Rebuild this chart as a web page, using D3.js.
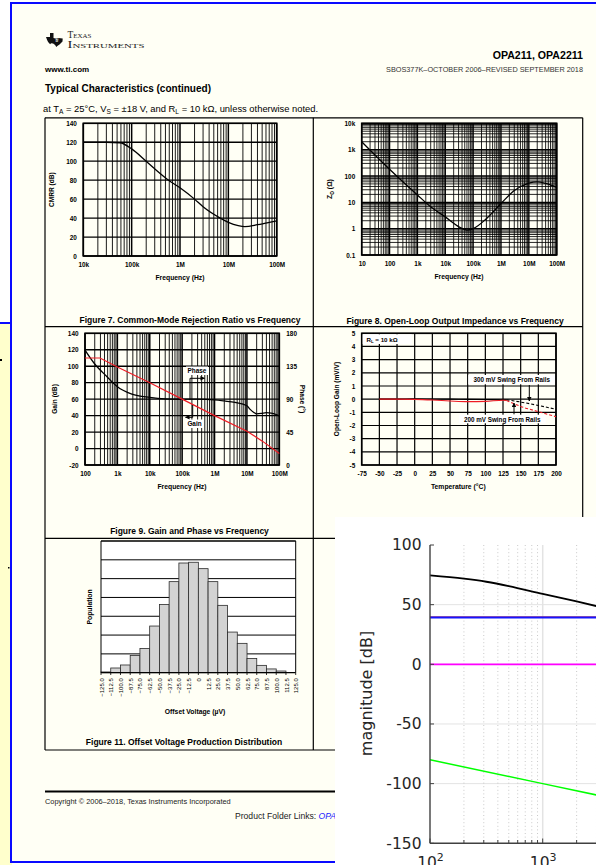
<!DOCTYPE html>
<html><head><meta charset="utf-8">
<script src="https://cdn.jsdelivr.net/npm/d3@7"></script>
<style>body{margin:0;background:#fff}svg{display:block}</style>
</head><body><svg id="c" width="596" height="865"></svg>
<script>
// ================= DATA =================
// Figure 7: CMRR vs frequency
const cmrrFreq = [1e4, 3e4, 5.7e4, 1e5, 2e5, 3e5, 5.8e5, 1e6, 2e6, 3e6, 6.8e6, 1e7, 1.6e7, 2.2e7, 4e7, 6.3e7, 1e8];
const cmrrDb   = [120, 120, 119.5, 113, 100, 92, 80, 72, 60, 52, 40, 35.5, 32, 31, 33, 35, 37];
const cmrrTicks = [0, 20, 40, 60, 80, 100, 120, 140];
const freqTicks7 = [1e4, 1e5, 1e6, 1e7, 1e8];
const freqLabels7 = ['10k', '100k', '1M', '10M', '100M'];

// Figure 8: open-loop output impedance
const zoFreq = [10, 100, 1e3, 3e3, 1e4, 3e4, 6e4, 1e5, 3e5, 1e6, 3e6, 1e7, 2e7, 4e7, 1e8];
const zoOhm  = [2000, 180, 19, 6.8, 2.8, 1.2, 0.88, 1.0, 2.4, 9, 28, 54, 60, 52, 37];
const freqTicks8 = [10, 100, 1e3, 1e4, 1e5, 1e6, 1e7, 1e8];
const freqLabels8 = ['10', '100', '1k', '10k', '100k', '1M', '10M', '100M'];
const zoTicks = [0.1, 1, 10, 100, 1e3, 1e4];
const zoLabels = ['0.1', '1', '10', '100', '1k', '10k'];

// Figure 9: gain and phase
const gainFreq = [100, 290, 1e3, 1e4, 1e5, 1e6, 1e7, 3e7, 1e8];
const gainDb   = [110, 110, 99, 80, 60, 40, 21, 9, -6];
const phaseFreq = [100, 200, 470, 1e3, 2.8e3, 1e4, 3e4, 1e5, 3e5, 1e6, 2e6, 4.3e6, 1e7, 1.26e7, 1.6e7, 2e7, 2.8e7, 4e7, 5.6e7, 8e7, 1e8];
const phaseDeg  = [157, 138, 121, 107, 97, 92.5, 90.5, 90, 90, 89, 87.5, 85.5, 81, 76, 72, 70, 70.5, 71.5, 71, 69, 67];
const gainTicks = [-20, 0, 20, 40, 60, 80, 100, 120, 140];
const phaseTicks = [0, 45, 90, 135, 180];
const freqTicks9 = [100, 1e3, 1e4, 1e5, 1e6, 1e7, 1e8];
const freqLabels9 = ['100', '1k', '10k', '100k', '1M', '10M', '100M'];

// Figure 10: open-loop gain vs temperature
const tempSolid = [-50, -25, 0, 25, 50, 75, 100, 125, 130];
const swing300Solid = [0, 0, 0.02, 0.01, 0, -0.02, -0.03, -0.04, -0.05];
const swing200Solid = [0, 0, -0.02, -0.07, -0.14, -0.19, -0.17, -0.08, -0.1];
const tempDashed = [130, 150, 175, 200];
const swing300Dashed = [-0.05, -0.22, -0.48, -0.77];
const swing200Dashed = [-0.1, -0.55, -0.95, -1.33];
const tempTicks = [-75, -50, -25, 0, 25, 50, 75, 100, 125, 150, 175, 200];
const olgTicks = [-5, -4, -3, -2, -1, 0, 1, 2, 3, 4, 5];

// Figure 11: offset voltage histogram
const offsetEdges = [-125, -112.5, -100, -87.5, -75, -62.5, -50, -37.5, -25, -12.5, 0, 12.5, 25, 37.5, 50, 62.5, 75, 87.5, 100, 112.5, 125];
const offsetLabels = ['\u2212125.0', '\u2212112.5', '\u2212100.0', '\u221287.5', '\u221275.0', '\u221262.5', '\u221250.0', '\u221237.5', '\u221225.0', '\u221212.5', '0', '12.5', '25.0', '37.5', '50.0', '62.5', '75.0', '87.5', '100.0', '112.5', '125.0'];
const offsetCounts = [4, 25, 41, 92, 129, 248, 363, 484, 583, 587, 553, 484, 358, 216, 156, 76, 39, 20, 9, 0];
const popGrid = [100, 200, 300, 400, 500, 600, 700];

// Overlay: magnitude plot
const magFreq = [100, 200, 316, 500, 1000, 2000, 3000];
const magBlack = [74.5, 71.8, 69.2, 65.6, 59, 52.7, 48.8];
const flatFreq = [100, 3000];
const magPurple = [39.6, 39.6];
const magBlue = [39.1, 39.1];
const magMagenta = [0, 0];
const greenFreq = [100, 1000, 3000];
const magGreen = [-80, -100, -109.5];
const magYTicks = [-150, -100, -50, 0, 50, 100];
const magXTicks = [100, 1000];
const magXLabels = [['10', '2'], ['10', '3']];

// ================= DRAWING =================
const W = 596, H = 865;
const SANS = '"Liberation Sans", Arial, Helvetica, sans-serif';
const DJ = '"DejaVu Sans", sans-serif';
const svg = d3.select('#c');

function logGrid(lo, hi) {
  const major = [], minor = [];
  for (let e = lo; e <= hi; e++) {
    major.push(Math.pow(10, e));
    if (e < hi) for (let m = 2; m < 10; m++) minor.push(m * Math.pow(10, e));
  }
  return {major, minor};
}
function vlines(g, vals, x, y0, y1, w, color, dash) {
  g.append('g').selectAll('line').data(vals).join('line')
    .attr('x1', d => x(d)).attr('x2', d => x(d)).attr('y1', y0).attr('y2', y1)
    .attr('stroke', color || '#000').attr('stroke-width', w).attr('stroke-dasharray', dash || null);
}
function hlines(g, vals, y, x0, x1, w, color, dash) {
  g.append('g').selectAll('line').data(vals).join('line')
    .attr('y1', d => y(d)).attr('y2', d => y(d)).attr('x1', x0).attr('x2', x1)
    .attr('stroke', color || '#000').attr('stroke-width', w).attr('stroke-dasharray', dash || null);
}
function styleAx(a, size, weight, family) {
  a.select('.domain').remove();
  a.selectAll('.tick line').remove();
  a.attr('font-family', family || SANS).attr('font-size', size).attr('font-weight', weight || 'bold');
  a.selectAll('text').attr('fill', '#000');
  return a;
}
function axLeft(g, scale, vals, fmt, xp, pad, size) {
  return styleAx(g.append('g').attr('transform', `translate(${xp},0)`)
    .call(d3.axisLeft(scale).tickValues(vals).tickFormat(fmt).tickSize(0).tickPadding(pad)), size);
}
function axRight(g, scale, vals, fmt, xp, pad, size) {
  return styleAx(g.append('g').attr('transform', `translate(${xp},0)`)
    .call(d3.axisRight(scale).tickValues(vals).tickFormat(fmt).tickSize(0).tickPadding(pad)), size);
}
function axBottom(g, scale, vals, fmt, yp, pad, size) {
  return styleAx(g.append('g').attr('transform', `translate(0,${yp})`)
    .call(d3.axisBottom(scale).tickValues(vals).tickFormat(fmt).tickSize(0).tickPadding(pad)), size);
}
function txt(g, x, y, s, size, opts) {
  opts = opts || {};
  const t = g.append('text').attr('x', x).attr('y', y).text(s)
    .attr('font-family', opts.family || SANS).attr('font-size', size)
    .attr('font-weight', opts.weight || 'normal').attr('fill', opts.fill || '#000')
    .attr('text-anchor', opts.anchor || 'start');
  if (opts.rotate != null) t.attr('transform', `rotate(${opts.rotate},${x},${y})`);
  if (opts.style) t.attr('font-style', opts.style);
  if (opts.len) t.attr('textLength', opts.len).attr('lengthAdjust', 'spacingAndGlyphs');
  return t;
}
function rich(g, x, y, parts, size, opts) {
  opts = opts || {};
  const t = g.append('text').attr('x', x).attr('y', y)
    .attr('font-family', SANS).attr('font-size', size).attr('font-weight', opts.weight || 'normal')
    .attr('text-anchor', opts.anchor || 'start').attr('fill', '#000');
  if (opts.rotate != null) t.attr('transform', `rotate(${opts.rotate},${x},${y})`);
  let shift = 0;
  parts.forEach(p => {
    const s = t.append('tspan').text(p[0]);
    const want = p[1] === 'sub' ? size * 0.3 : 0;
    if (want !== shift) { s.attr('dy', want - shift); shift = want; }
    if (p[1] === 'sub') s.attr('font-size', size * 0.7);
  });
  return t;
}

// --- backgrounds and window frames ---
svg.append('rect').attr('width', W).attr('height', H).attr('fill', '#ffffff');
svg.append('rect').attr('x', 0).attr('y', 323).attr('width', 12).attr('height', H - 323).attr('fill', '#ffffcc');
svg.append('rect').attr('x', 11).attr('y', 3).attr('width', W - 11).attr('height', 859).attr('fill', '#fffff5');
const BLUE = '#0a0aff';
svg.append('line').attr('x1', 10).attr('x2', W).attr('y1', 3).attr('y2', 3).attr('stroke', BLUE).attr('stroke-width', 2);
svg.append('line').attr('x1', 11).attr('x2', 11).attr('y1', 2).attr('y2', 863).attr('stroke', BLUE).attr('stroke-width', 2);
svg.append('line').attr('x1', 0).attr('x2', 11).attr('y1', 323).attr('y2', 323).attr('stroke', BLUE).attr('stroke-width', 2);
svg.append('line').attr('x1', 10).attr('x2', W).attr('y1', 862).attr('y2', 862).attr('stroke', BLUE).attr('stroke-width', 2);
svg.append('rect').attr('x', 0).attr('y', 359).attr('width', 2).attr('height', 2).attr('fill', '#000');
svg.append('rect').attr('x', 8).attr('y', 567).attr('width', 1.5).attr('height', 1.5).attr('fill', '#000');

// --- page header ---
const page = svg.append('g');
page.append('path').attr('d', 'M46,37 h4 v-4 h3.5 v5 l2,0.6 l3,-0.6 l4.2,0.4 l-0.2,3 l-3,3 l-2.2,1.5 l-1,1.2 l-1.2,-2 l-2,-1.5 l-2,-0.3 l-1,1 l-2,-2.2 l-1,-2 Z').attr('fill', '#111');
txt(page, 55.5, 41.5, 'ti', 4.5, {weight: 'bold', fill: '#fff', style: 'italic'});
txt(page, 67.5, 38, 'Texas', 9.5, {family: '"Liberation Serif", serif', fill: '#222', len: 24}).attr('font-variant', 'small-caps');
txt(page, 67.5, 48, 'Instruments', 9.5, {family: '"Liberation Serif", serif', fill: '#222', len: 77}).attr('font-variant', 'small-caps');
txt(page, 583, 59, 'OPA211, OPA2211', 10.6, {weight: 'bold', anchor: 'end'});
txt(page, 45, 72, 'www.ti.com', 8, {weight: 'bold'});
txt(page, 583, 72, 'SBOS377K\u2013OCTOBER 2006\u2013REVISED SEPTEMBER 2018', 7.3, {anchor: 'end', fill: '#333'});
txt(page, 45, 92, 'Typical Characteristics (continued)', 10, {weight: 'bold'});
rich(page, 43, 111.5, [['at T'], ['A', 'sub'], [' = 25\u00b0C, V'], ['S', 'sub'], [' = \u00b118 V, and R'], ['L', 'sub'], [' = 10 k\u03a9, unless otherwise noted.']], 9.4);

// table frame
const TB = {l: 45, m: 313.3, r: 582.7, rows: [117.8, 326.7, 538.3, 750]};
TB.rows.forEach(yv => page.append('line').attr('x1', TB.l).attr('x2', TB.r).attr('y1', yv).attr('y2', yv).attr('stroke', '#000').attr('stroke-width', 1.2));
[TB.l, TB.m, TB.r].forEach(xv => page.append('line').attr('x1', xv).attr('x2', xv).attr('y1', TB.rows[0]).attr('y2', TB.rows[3]).attr('stroke', '#000').attr('stroke-width', 1.2));

// ---------- Figure 7 ----------
{
  const g = svg.append('g');
  const x = d3.scaleLog().domain([1e4, 1e8]).range([83.3, 276.7]);
  const y = d3.scaleLinear().domain([0, 140]).range([256, 123.3]);
  const lg = logGrid(4, 8);
  vlines(g, lg.minor, x, 123.3, 256, 0.9);
  vlines(g, lg.major, x, 123.3, 256, 1.5);
  hlines(g, cmrrTicks, y, 83.3, 276.7, 1.3);
  g.append('rect').attr('x', 83.3).attr('y', 123.3).attr('width', 193.4).attr('height', 132.7).attr('fill', 'none').attr('stroke', '#000').attr('stroke-width', 1.6);
  g.append('path').datum(cmrrFreq.map((f, i) => [f, cmrrDb[i]]))
    .attr('d', d3.line().x(d => x(d[0])).y(d => y(d[1])).curve(d3.curveMonotoneX))
    .attr('fill', 'none').attr('stroke', '#000').attr('stroke-width', 1.3);
  axLeft(g, y, cmrrTicks, d => d, 83.3, 6.5, 6.4);
  axBottom(g, x, freqTicks7, (d, i) => freqLabels7[i], 256, 6.5, 6.4);
  txt(g, 54.5, 189.7, 'CMRR (dB)', 6.6, {weight: 'bold', anchor: 'middle', rotate: -90});
  txt(g, 180, 279.5, 'Frequency (Hz)', 6.8, {weight: 'bold', anchor: 'middle'});
  txt(g, 190, 323, 'Figure 7. Common-Mode Rejection Ratio vs Frequency', 8.5, {weight: 'bold', anchor: 'middle'});
}

// ---------- Figure 8 ----------
{
  const g = svg.append('g');
  const x = d3.scaleLog().domain([10, 1e8]).range([361.7, 556.7]);
  const y = d3.scaleLog().domain([0.1, 1e4]).range([255, 123.3]);
  const lx = logGrid(1, 8), ly = logGrid(-1, 4);
  vlines(g, lx.minor, x, 123.3, 255, 0.85);
  vlines(g, lx.major, x, 123.3, 255, 1.4);
  hlines(g, ly.minor, y, 361.7, 556.7, 0.85);
  hlines(g, ly.major, y, 361.7, 556.7, 1.3);
  g.append('rect').attr('x', 361.7).attr('y', 123.3).attr('width', 195).attr('height', 131.7).attr('fill', 'none').attr('stroke', '#000').attr('stroke-width', 1.6);
  g.append('path').datum(zoFreq.map((f, i) => [f, zoOhm[i]]))
    .attr('d', d3.line().x(d => x(d[0])).y(d => y(d[1])).curve(d3.curveMonotoneX))
    .attr('fill', 'none').attr('stroke', '#000').attr('stroke-width', 1.3);
  axLeft(g, y, zoTicks, (d, i) => zoLabels[i], 361.7, 6.5, 6.4);
  axBottom(g, x, freqTicks8, (d, i) => freqLabels8[i], 255, 6.5, 6.4);
  rich(g, 332, 189, [['Z'], ['O', 'sub'], [' (\u03a9)']], 6.8, {weight: 'bold', anchor: 'middle', rotate: -90});
  txt(g, 459, 278.5, 'Frequency (Hz)', 6.8, {weight: 'bold', anchor: 'middle'});
  txt(g, 455, 323.5, 'Figure 8. Open-Loop Output Impedance vs Frequency', 8.5, {weight: 'bold', anchor: 'middle'});
}

// arrow markers
const defs = svg.append('defs');
defs.append('marker').attr('id', 'arr').attr('viewBox', '0 0 10 10').attr('refX', 9).attr('refY', 5)
  .attr('markerWidth', 4.5).attr('markerHeight', 4.5).attr('orient', 'auto-start-reverse').attr('markerUnits', 'userSpaceOnUse')
  .append('path').attr('d', 'M0,0 L10,5 L0,10 Z').attr('fill', '#000');

// ---------- Figure 9 ----------
{
  const g = svg.append('g');
  const x = d3.scaleLog().domain([100, 1e8]).range([85, 279.3]);
  const y = d3.scaleLinear().domain([-20, 140]).range([465, 333.3]);
  const yr = d3.scaleLinear().domain([0, 180]).range([465, 333.3]);
  const lg = logGrid(2, 8);
  vlines(g, lg.minor, x, 333.3, 465, 0.9);
  vlines(g, lg.major, x, 333.3, 465, 1.5);
  hlines(g, gainTicks, y, 85, 279.3, 1.3);
  g.append('rect').attr('x', 85).attr('y', 333.3).attr('width', 194.3).attr('height', 131.7).attr('fill', 'none').attr('stroke', '#000').attr('stroke-width', 1.6);
  g.append('path').datum(phaseFreq.map((f, i) => [f, phaseDeg[i]]))
    .attr('d', d3.line().x(d => x(d[0])).y(d => yr(d[1])).curve(d3.curveMonotoneX))
    .attr('fill', 'none').attr('stroke', '#000').attr('stroke-width', 1.3);
  g.append('path').datum(gainFreq.map((f, i) => [f, gainDb[i]]))
    .attr('d', d3.line().x(d => x(d[0])).y(d => y(d[1])))
    .attr('fill', 'none').attr('stroke', '#ee1c25').attr('stroke-width', 1.2);
  // annotations
  g.append('rect').attr('x', 186).attr('y', 366.5).attr('width', 22).attr('height', 8.5).attr('fill', '#fff');
  txt(g, 197, 373, 'Phase', 6.4, {weight: 'bold', anchor: 'middle'});
  g.append('path').attr('d', 'M190,400 V378.3 H204.5').attr('fill', 'none').attr('stroke', '#000').attr('stroke-width', 1).attr('marker-end', 'url(#arr)');
  g.append('rect').attr('x', 186).attr('y', 419.5).attr('width', 17).attr('height', 8.5).attr('fill', '#fff');
  txt(g, 194.5, 426, 'Gain', 6.4, {weight: 'bold', anchor: 'middle'});
  g.append('path').attr('d', 'M192.7,405 V417.3 H185.5').attr('fill', 'none').attr('stroke', '#000').attr('stroke-width', 1).attr('marker-end', 'url(#arr)');
  axLeft(g, y, gainTicks, d => d, 85, 6.5, 6.4);
  axRight(g, yr, phaseTicks, d => d, 279.3, 7, 6.4);
  axBottom(g, x, freqTicks9, (d, i) => freqLabels9[i], 465, 6.5, 6.4);
  txt(g, 57, 399, 'Gain (dB)', 6.6, {weight: 'bold', anchor: 'middle', rotate: -90});
  txt(g, 299.5, 399, 'Phase (\u00b0)', 6.6, {weight: 'bold', anchor: 'middle', rotate: 90});
  txt(g, 182, 489, 'Frequency (Hz)', 6.8, {weight: 'bold', anchor: 'middle'});
  txt(g, 189.5, 534, 'Figure 9. Gain and Phase vs Frequency', 8.5, {weight: 'bold', anchor: 'middle'});
}

// ---------- Figure 10 ----------
{
  const g = svg.append('g');
  const x = d3.scaleLinear().domain([-75, 200]).range([361.7, 556]);
  const y = d3.scaleLinear().domain([-5, 5]).range([465, 333.3]);
  vlines(g, tempTicks, x, 333.3, 465, 1.2);
  hlines(g, olgTicks, y, 361.7, 556, 1.2);
  g.append('rect').attr('x', 361.7).attr('y', 333.3).attr('width', 194.3).attr('height', 131.7).attr('fill', 'none').attr('stroke', '#000').attr('stroke-width', 1.6);
  const ln = d3.line().x(d => x(d[0])).y(d => y(d[1])).curve(d3.curveMonotoneX);
  g.append('path').datum(tempSolid.map((t, i) => [t, swing300Solid[i]])).attr('d', ln).attr('fill', 'none').attr('stroke', '#000').attr('stroke-width', 1.1);
  g.append('path').datum(tempSolid.map((t, i) => [t, swing200Solid[i]])).attr('d', ln).attr('fill', 'none').attr('stroke', '#ee1c25').attr('stroke-width', 1.1);
  g.append('path').datum(tempDashed.map((t, i) => [t, swing300Dashed[i]])).attr('d', ln).attr('fill', 'none').attr('stroke', '#000').attr('stroke-width', 1.1).attr('stroke-dasharray', '3,2');
  g.append('path').datum(tempDashed.map((t, i) => [t, swing200Dashed[i]])).attr('d', ln).attr('fill', 'none').attr('stroke', '#ee1c25').attr('stroke-width', 1.1).attr('stroke-dasharray', '3,2');
  g.append('rect').attr('x', 362.7).attr('y', 334.3).attr('width', 49).attr('height', 9.7).attr('fill', '#fff');
  rich(g, 366.5, 341.5, [['R'], ['L', 'sub'], [' = 10 k\u03a9']], 6.2, {weight: 'bold'});
  g.append('rect').attr('x', 468.3).attr('y', 375).attr('width', 86.7).attr('height', 9.3).attr('fill', '#fff');
  txt(g, 511.7, 382, '300 mV Swing From Rails', 6.3, {weight: 'bold', anchor: 'middle'});
  g.append('path').attr('d', 'M529.3,385 V401').attr('stroke', '#000').attr('stroke-width', 1).attr('marker-end', 'url(#arr)');
  g.append('rect').attr('x', 459).attr('y', 414.7).attr('width', 86.7).attr('height', 8.6).attr('fill', '#fff');
  txt(g, 502.3, 421.5, '200 mV Swing From Rails', 6.3, {weight: 'bold', anchor: 'middle'});
  g.append('path').attr('d', 'M514,414.3 V403').attr('stroke', '#000').attr('stroke-width', 1).attr('marker-end', 'url(#arr)');
  axLeft(g, y, olgTicks, d => d, 361.7, 6.5, 6.4);
  axBottom(g, x, tempTicks, d => d, 465, 6.8, 6.4);
  txt(g, 338.5, 399, 'Open-Loop Gain (mV/V)', 6.6, {weight: 'bold', anchor: 'middle', rotate: -90});
  txt(g, 458.3, 489, 'Temperature (\u00b0C)', 6.8, {weight: 'bold', anchor: 'middle'});
}

// ---------- Figure 11 ----------
{
  const g = svg.append('g');
  const x = d3.scaleLinear().domain([-125, 125]).range([101, 295.7]);
  const y = d3.scaleLinear().domain([0, 700]).range([672.7, 541]);
  g.append('rect').attr('x', 101).attr('y', 541).attr('width', 194.7).attr('height', 131.7).attr('fill', '#fff');
  hlines(g, popGrid, y, 101, 295.7, 1);
  g.append('g').selectAll('rect').data(offsetCounts).join('rect')
    .attr('x', (d, i) => x(offsetEdges[i])).attr('width', (d, i) => x(offsetEdges[i + 1]) - x(offsetEdges[i]))
    .attr('y', d => y(d)).attr('height', d => y(0) - y(d))
    .attr('fill', '#d3d3d3').attr('stroke', '#2a2a2a').attr('stroke-width', 0.8);
  g.append('path').attr('d', `M101,672.7 V541 H295.7 V672.7`).attr('fill', 'none').attr('stroke', '#000').attr('stroke-width', 1);
  g.append('line').attr('x1', 101).attr('x2', 295.7).attr('y1', 672.7).attr('y2', 672.7).attr('stroke', '#000').attr('stroke-width', 1.3);
  vlines(g, offsetEdges, x, 672.7, 675, 0.8);
  const a = axBottom(g, x, offsetEdges, (d, i) => offsetLabels[i], 672.7, 0, 6);
  a.selectAll('text').attr('transform', 'rotate(-90)').attr('text-anchor', 'end').attr('x', -5.5).attr('y', 0).attr('dy', '0.34em').attr('font-weight', 'normal');
  txt(g, 92, 606.9, 'Population', 6.8, {weight: 'bold', anchor: 'middle', rotate: -90});
  txt(g, 195, 714, 'Offset Voltage (\u00b5V)', 6.8, {weight: 'bold', anchor: 'middle'});
  txt(g, 184, 744.5, 'Figure 11. Offset Voltage Production Distribution', 8.5, {weight: 'bold', anchor: 'middle'});
}

// --- footer ---
page.append('line').attr('x1', 45).attr('x2', 583).attr('y1', 791.5).attr('y2', 791.5).attr('stroke', '#000').attr('stroke-width', 1.8);
txt(svg, 45, 803.6, 'Copyright \u00a9 2006\u20132018, Texas Instruments Incorporated', 7.4, {fill: '#222'});
{
  const t = svg.append('text').attr('x', 235).attr('y', 819).attr('font-family', SANS).attr('font-size', 8.6).attr('fill', '#222');
  t.append('tspan').text('Product Folder Links: ');
  t.append('tspan').text('OPA211 OPA2211').attr('fill', '#1a1aff').attr('font-style', 'italic');
}

// ================= OVERLAY: magnitude plot =================
{
  svg.append('clipPath').attr('id', 'pc').append('rect').attr('x', 335).attr('y', 517).attr('width', W - 335).attr('height', H - 517);
  const g = svg.append('g').attr('clip-path', 'url(#pc)');
  g.append('rect').attr('x', 335).attr('y', 517).attr('width', W - 335).attr('height', H - 517).attr('fill', '#fff');
  const x = d3.scaleLog().domain([100, 1000]).range([430, 542.7]);
  const y = d3.scaleLinear().domain([-150, 100]).range([843.3, 545]);
  const xEnd = x(1e4);
  // grid
  hlines(g, [-100, -50, 0, 50], y, 430, xEnd, 1, '#e3e3e3');
  const minorX = [200, 300, 400, 500, 600, 700, 800, 900, 2000, 3000, 4000];
  vlines(g, minorX, x, 545, 843.3, 1, '#c9c9c9', '1,2.6');
  vlines(g, [1000], x, 545, 843.3, 1.5, '#e3e3e3');
  // series
  const ln = d3.line().x(d => x(d[0])).y(d => y(d[1]));
  g.append('path').datum(magFreq.map((f, i) => [f, magBlack[i]])).attr('d', d3.line().x(d => x(d[0])).y(d => y(d[1])).curve(d3.curveMonotoneX)).attr('fill', 'none').attr('stroke', '#000').attr('stroke-width', 1.8);
  g.append('path').datum(flatFreq.map((f, i) => [f, magPurple[i]])).attr('d', ln).attr('fill', 'none').attr('stroke', '#7a1f8c').attr('stroke-width', 1.6);
  g.append('path').datum(flatFreq.map((f, i) => [f, magBlue[i]])).attr('d', ln).attr('fill', 'none').attr('stroke', '#1414ff').attr('stroke-width', 1.6);
  g.append('path').datum(flatFreq.map((f, i) => [f, magMagenta[i]])).attr('d', ln).attr('fill', 'none').attr('stroke', '#ff00ff').attr('stroke-width', 1.8);
  g.append('path').datum(greenFreq.map((f, i) => [f, magGreen[i]])).attr('d', ln).attr('fill', 'none').attr('stroke', '#00ff00').attr('stroke-width', 1.5);
  // axes
  const AX = '#404040';
  g.append('line').attr('x1', 430).attr('x2', 430).attr('y1', 545).attr('y2', 843.3).attr('stroke', AX).attr('stroke-width', 1.4);
  g.append('line').attr('x1', 430).attr('x2', xEnd).attr('y1', 843.3).attr('y2', 843.3).attr('stroke', AX).attr('stroke-width', 1.4);
  g.append('g').selectAll('line').data(magYTicks).join('line')
    .attr('x1', 430).attr('x2', 434).attr('y1', d => y(d)).attr('y2', d => y(d)).attr('stroke', AX).attr('stroke-width', 1);
  g.append('g').selectAll('line').data(minorX).join('line')
    .attr('x1', d => x(d)).attr('x2', d => x(d)).attr('y1', 843.3).attr('y2', 840).attr('stroke', AX).attr('stroke-width', 1);
  g.append('g').selectAll('line').data(magXTicks).join('line')
    .attr('x1', d => x(d)).attr('x2', d => x(d)).attr('y1', 843.3).attr('y2', 838.5).attr('stroke', AX).attr('stroke-width', 1);
  const ay = g.append('g').attr('transform', 'translate(430,0)')
    .call(d3.axisLeft(y).tickValues(magYTicks).tickFormat(d => d).tickSize(0).tickPadding(8.5));
  styleAx(ay, 15.5, 'normal', DJ);
  ay.selectAll('text').attr('fill', '#262626');
  const ax = g.append('g').attr('transform', 'translate(0,843.3)')
    .call(d3.axisBottom(x).tickValues(magXTicks).tickFormat('').tickSize(0).tickPadding(13.7));
  styleAx(ax, 15.5, 'normal', DJ);
  ax.selectAll('.tick text').each(function (d, i) {
    const t = d3.select(this).attr('fill', '#262626');
    t.text('');
    t.append('tspan').text(magXLabels[i][0]);
    t.append('tspan').attr('dy', -7).attr('font-size', 11).text(magXLabels[i][1]);
  });
  txt(g, 372, 693.5, 'magnitude [dB]', 16, {family: DJ, anchor: 'middle', rotate: -90, fill: '#262626'});
}
</script></body></html>
